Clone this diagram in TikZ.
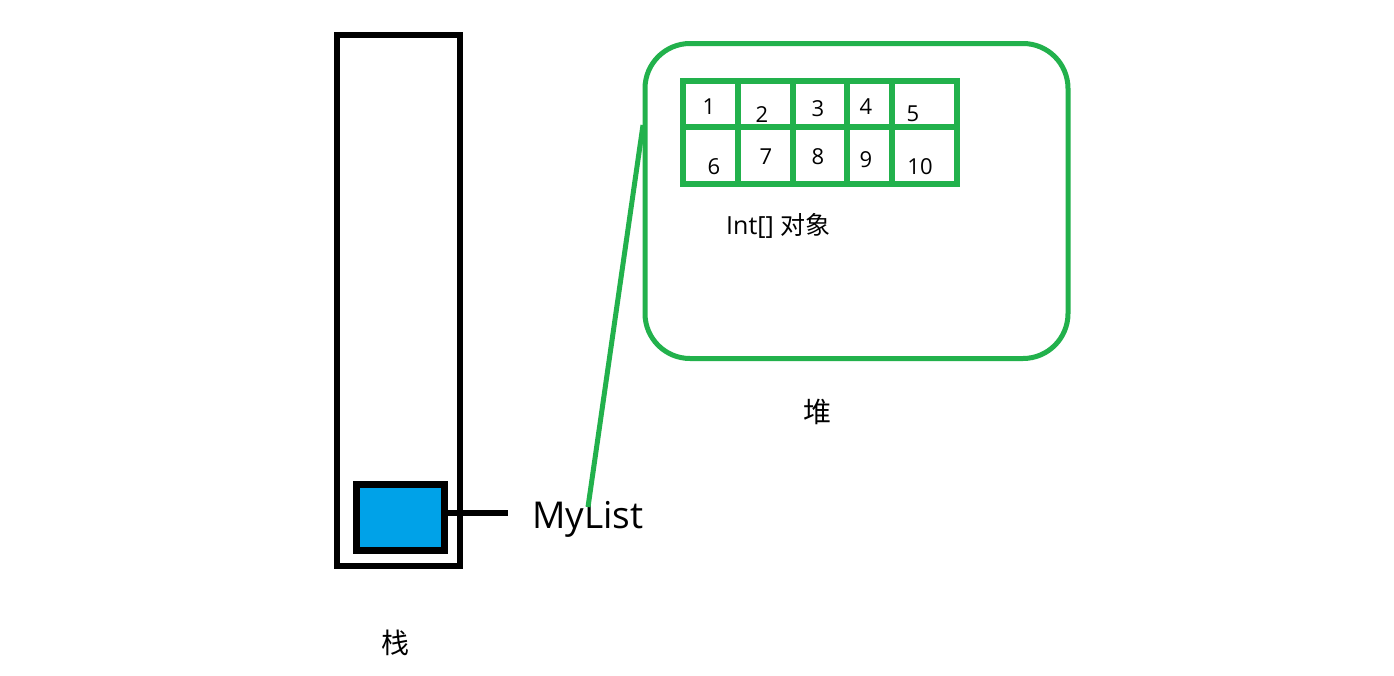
\documentclass[tikz,border=0pt]{standalone}
\usepackage{fontspec}
\setmainfont{Open Sans}
\newfontfamily\cjk{Noto Sans CJK SC}
\definecolor{hgreen}{HTML}{22B14C}
\definecolor{hblue}{HTML}{00A2E8}
\begin{document}
\begin{tikzpicture}[x=1pt,y=-1pt,
  blk/.style={draw=black,line width=6pt},
  grn/.style={draw=hgreen,line width=5pt},
  cell/.style={draw=hgreen,line width=6pt},
  num/.style={font=\fontsize{22}{22}\selectfont,inner sep=0pt},
  lbl/.style={inner sep=0pt}]
\useasboundingbox[fill=white] (0,0) rectangle (1394,675);
% stack
\node[blk,minimum width=123pt,minimum height=531pt,inner sep=0pt] (stack) at (398.5,300.5) {};
\node[blk,line width=7pt,fill=hblue,minimum width=88pt,minimum height=66pt,inner sep=0pt] (ref) at (400,517) {};
\coordinate (refend) at (508,513);
\draw[line width=6pt] (ref.east |- refend) -- (refend);
\node[lbl,anchor=base west,font=\fontsize{37}{37}\selectfont] (mylist) at (532,528) {MyList};
\node[lbl,font=\cjk\fontsize{28}{28}\selectfont] (zhan) at (395,643) {栈};
% heap
\node[grn,rounded corners=45pt,minimum width=423pt,minimum height=315pt,inner sep=0pt] (heap) at (856.5,201) {};
\node[lbl,font=\cjk\fontsize{28}{28}\selectfont] (dui) at (817,412) {堆};
% array grid
\coordinate (g1) at (683,81);
\coordinate (g2) at (957,184);
\draw[cell] (g1) rectangle (g2);
\draw[cell] (680,127) -- (960,127);
\foreach \x in {738,793,847,892} \draw[cell] (\x,81) -- (\x,184);
\foreach \t/\x/\y in {1/709/107,2/762/115,3/818/109,4/866/107,5/913/114,6/714/167,7/766/157,8/818/157,9/866/160,10/920/167}
  \node[num] (n\t) at (\x,\y) {\t};
\node[lbl,anchor=west,font=\fontsize{25}{25}\selectfont] (arr) at (726,226) {Int[] {\cjk 对象}};
% pointer
\coordinate (ptop) at (643,125);
\draw[grn] (588,507) -- (ptop);
\end{tikzpicture}
\end{document}
